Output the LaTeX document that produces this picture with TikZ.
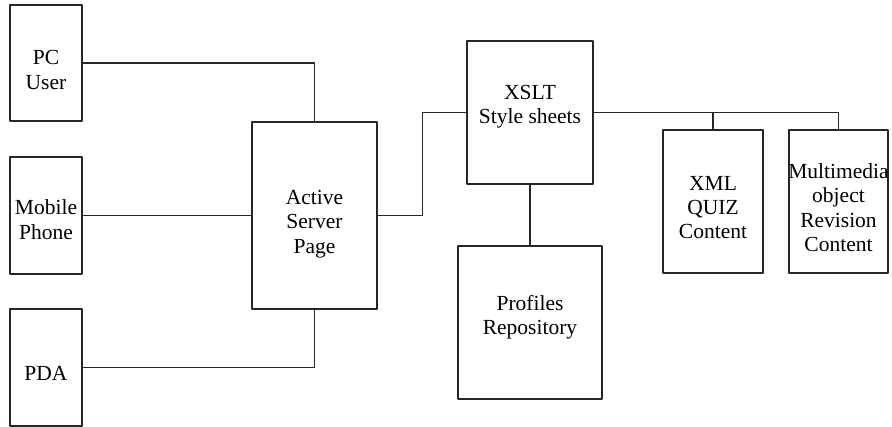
\documentclass[tikz,border=0pt]{standalone}
\usepackage{fontspec}
\setmainfont{Liberation Serif}
\usepackage{tikz}
\usetikzlibrary{positioning,calc}

\begin{document}
\begin{tikzpicture}[x=1pt,y=-1pt,line join=round,line cap=round]
% -------------------------------------------------
% Styles
% -------------------------------------------------
\tikzset{
  unit/.style={draw=black!85, line width=1.1pt, inner sep=0pt},
  txt/.style={inner sep=0pt, align=center, font=\fontsize{21.5}{24.3}\selectfont},
  link/.style={draw=black!85, line width=1.1pt},
}
\useasboundingbox (0,0) rectangle (892,427);
% -------------------------------------------------
% CLIENTS
% -------------------------------------------------
\node[unit,minimum width=72pt,minimum height=116pt,
      label={[txt,name=pc-t,yshift=-7pt]center:PC\\User}] (pc) at (46,63) {};
\node[unit,minimum width=72pt,minimum height=117pt,
      label={[txt,name=mob-t,yshift=-4pt]center:Mobile\\Phone}] (mob) at (46,215.5) {};
\node[unit,minimum width=72pt,minimum height=117pt,
      label={[txt,name=pda-t,yshift=-5.5pt]center:PDA}] (pda) at (46,367.5) {};
% -------------------------------------------------
% SERVER SIDE
% -------------------------------------------------
\node[unit,minimum width=125pt,minimum height=187pt,
      label={[txt,name=asp-t,yshift=-8.5pt]center:Active\\Server\\Page}] (asp) at (314.5,215.5) {};
\node[unit,minimum width=126pt,minimum height=143pt,
      label={[txt,name=xslt-t,yshift=5.5pt]center:XSLT\\Style sheets}] (xslt) at (530,112.5) {};
\node[unit,minimum width=144pt,minimum height=153pt,
      label={[txt,name=prof-t,yshift=5pt]center:Profiles\\Repository}] (prof) at (530,322.5) {};
% -------------------------------------------------
% CONTENT
% -------------------------------------------------
\node[unit,minimum width=100pt,minimum height=143pt,
      label={[txt,name=xml-t,yshift=-6pt]center:XML\\QUIZ\\Content}] (xml) at (713,201.5) {};
\node[unit,minimum width=99pt,minimum height=143pt,
      label={[txt,name=mm-t,yshift=-6pt]center:Multimedia\\object\\Revision\\Content}] (mm) at (838.5,201.5) {};

% connections
\draw[link] (pc.east) -| (asp.north);
\draw[link] (mob.east) -- (asp.west);
\draw[link] (pda.east) -| (asp.south);
\draw[link] (asp.east) -- ++(45,0) |- (xslt.west);
\draw[link] (xslt.south) -- (prof.north);
\foreach \c in {xml,mm}{
  \draw[link] (xslt.east) -| (\c.north);
}

\end{tikzpicture}
\end{document}
